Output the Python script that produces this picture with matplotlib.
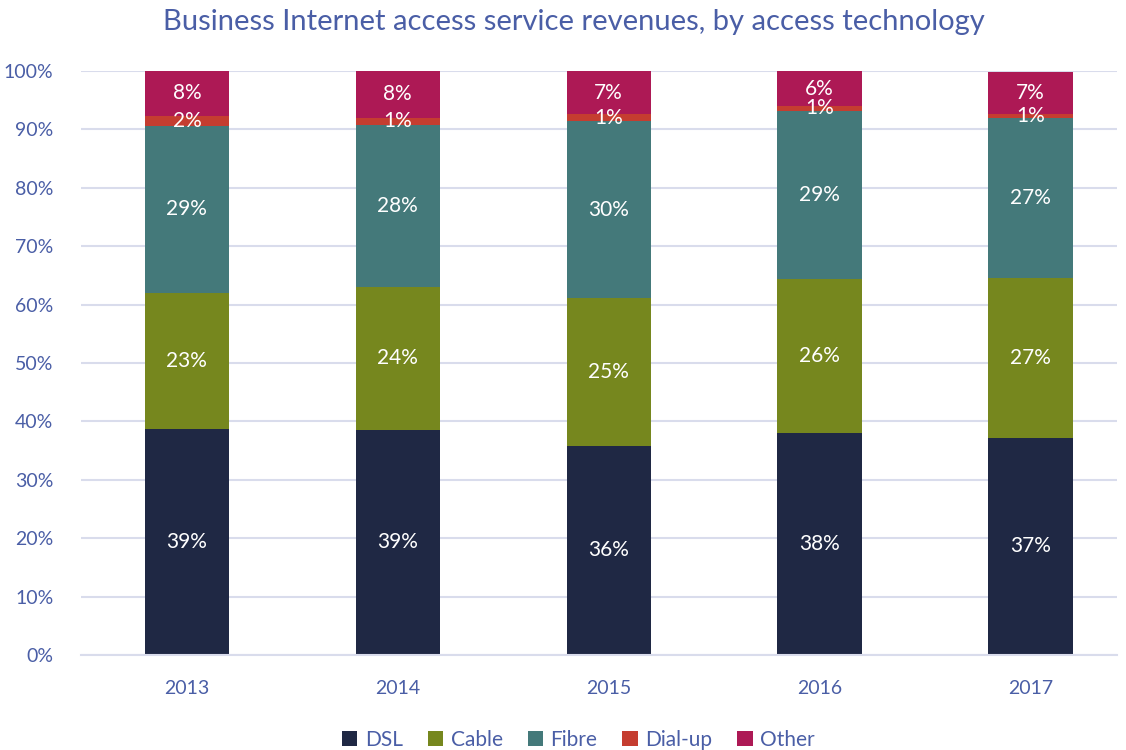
import numpy as np
import matplotlib.pyplot as plt
from matplotlib.ticker import PercentFormatter

plt.rcParams['font.family'] = ['Lato', 'DejaVu Sans']

years = ['2013', '2014', '2015', '2016', '2017']
dsl = [38.7, 38.6, 35.8, 38.0, 37.2]
cable = [23.3, 24.4, 25.3, 26.4, 27.4]
fibre = [28.6, 27.8, 30.3, 28.8, 27.4]
dialup = [1.7, 1.2, 1.2, 0.8, 0.7]
other = [7.7, 8.0, 7.4, 6.0, 7.2]

series = [('DSL', dsl, '#1f2844'), ('Cable', cable, '#76871e'),
          ('Fibre', fibre, '#44797a'), ('Dial-up', dialup, '#c53d30'),
          ('Other', other, '#ad1955')]

text_col = '#4a5ea6'

fig = plt.figure(figsize=(11.26, 7.5), dpi=100)
ax = fig.add_axes([81 / 1126, 95 / 750, 1036 / 1126, 584 / 750])

x = np.arange(len(years))
bottom = np.zeros(len(years))
for name, vals, col in series:
    vals = np.array(vals) / 100
    ax.bar(x, vals, 0.4, bottom=bottom, color=col, label=name, zorder=2)
    for xi, b, v in zip(x, bottom, vals):
        ax.text(xi, b + v / 2, f'{v * 100:.0f}%', ha='center', va='center',
                color='white', fontsize=15, zorder=3)
    bottom += vals

ax.set_xlim(-0.502, 4.41)
ax.set_ylim(0, 1)
ax.set_xticks(x)
ax.set_xticklabels(years)
ax.set_yticks(np.arange(0, 1.01, 0.1))
ax.yaxis.set_major_formatter(PercentFormatter(1.0, decimals=0))
ax.tick_params(axis='both', length=0, labelsize=14, colors=text_col)
ax.tick_params(axis='y', pad=20)
ax.tick_params(axis='x', pad=18)
ax.grid(axis='y', color='#d9dcec', linewidth=1.5, zorder=0)
ax.set_axisbelow(True)
for s in ['top', 'right', 'left']:
    ax.spines[s].set_visible(False)
ax.spines['bottom'].set_color('#d9dcec')
ax.spines['bottom'].set_linewidth(1.5)

fig.text(0.51, 0.988, 'Business Internet access service revenues, by access technology',
         ha='center', va='top', fontsize=21, color=text_col)

ax.legend(loc='lower center', bbox_to_anchor=(0.48, -0.195), ncol=5, frameon=False,
          fontsize=15, handlelength=0.75, handleheight=0.75, handletextpad=0.35,
          columnspacing=1.2, labelcolor=text_col)

fig.savefig('out.png', dpi=100)
